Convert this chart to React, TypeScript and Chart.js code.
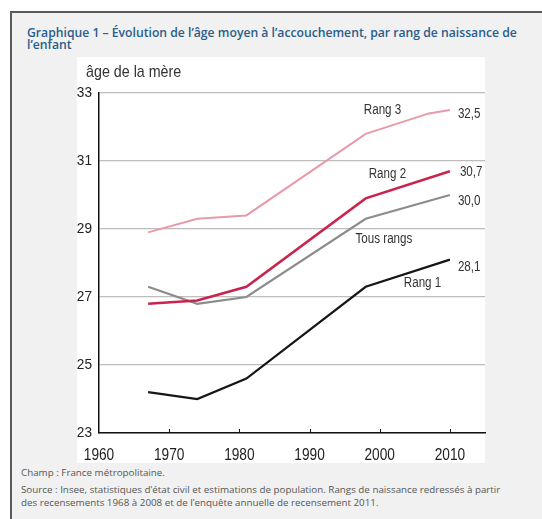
import React, { useEffect, useRef } from "react";
import { Chart, registerables } from "chart.js";

Chart.register(...registerables);

const yearsMain = [1967, 1974, 1981, 1998, 2010];
const yearsRang3 = [1967, 1974, 1981, 1998, 2007, 2010];
const rang3 = [28.9, 29.3, 29.4, 31.8, 32.4, 32.5];
const rang2 = [26.8, 26.9, 27.3, 29.9, 30.7];
const tousRangs = [27.3, 26.8, 27.0, 29.3, 30.0];
const rang1 = [24.2, 24.0, 24.6, 27.3, 28.1];
const endLabels = ["32,5", "30,7", "30,0", "28,1"];
const seriesNames = ["Rang 3", "Rang 2", "Tous rangs", "Rang 1"];
const xTicks = [1960, 1970, 1980, 1990, 2000, 2010];
const yTicks = [23, 25, 27, 29, 31, 33];

// annotation placement (data coordinates) for series names
const nameX = [2000.4, 2001.1, 2000.6, 2006.1];
const nameY = [32.5, 30.6, 28.7, 27.4];
// pixel offset of value label from last point
const endDx = [8, 10, 8, 8];
const endDy = [4, 1, 6, 8];

const COLORS = ["#e79aa9", "#c9244c", "#8c8c8c", "#161616"];
const SANS = "'Liberation Sans', Arial, sans-serif";

function toXY(xs: number[], ys: number[]) {
  return xs.map((x, i) => ({ x, y: ys[i] }));
}

function fillNarrow(
  ctx: CanvasRenderingContext2D,
  text: string,
  x: number,
  y: number,
  align: CanvasTextAlign,
  size: number,
  color: string,
  sx = 0.83
) {
  ctx.save();
  ctx.font = `${size}px ${SANS}`;
  ctx.fillStyle = color;
  ctx.translate(x, y);
  ctx.scale(sx, 1);
  ctx.textAlign = align;
  ctx.textBaseline = "middle";
  ctx.fillText(text, 0, 0);
  ctx.restore();
}

const labelsPlugin = {
  id: "labelsPlugin",
  afterDraw(chart: any) {
    const { ctx, scales } = chart;
    const xs = scales.x;
    const ys = scales.y;
    ctx.save();
    // inward ticks on x axis
    ctx.strokeStyle = "#111";
    ctx.lineWidth = 1;
    const axisY = ys.getPixelForValue(23);
    xTicks.forEach((t) => {
      if (t === 1960) return;
      const px = Math.round(xs.getPixelForValue(t)) + 0.5;
      ctx.beginPath();
      ctx.moveTo(px, axisY);
      ctx.lineTo(px, axisY - 4);
      ctx.stroke();
    });
    ctx.restore();
    // tick labels
    xTicks.forEach((t) => {
      fillNarrow(ctx, String(t), xs.getPixelForValue(t), axisY + 22, "center", 16.5, "#222");
    });
    yTicks.forEach((t) => {
      fillNarrow(ctx, String(t), xs.left - 7, ys.getPixelForValue(t), "right", 15.5, "#222", 0.88);
    });
    // axis title
    fillNarrow(ctx, "âge de la mère", 9, 15, "left", 17, "#333", 0.84);
    // series names & end values
    chart.data.datasets.forEach((ds: any, i: number) => {
      fillNarrow(ctx, seriesNames[i], xs.getPixelForValue(nameX[i]), ys.getPixelForValue(nameY[i]), "center", 14, "#333");
      const last = ds.data[ds.data.length - 1];
      fillNarrow(
        ctx,
        endLabels[i],
        xs.getPixelForValue(last.x) + endDx[i],
        ys.getPixelForValue(last.y) + endDy[i],
        "left",
        14,
        "#333"
      );
    });
  },
};

function ChartBox() {
  const ref = useRef<HTMLCanvasElement | null>(null);
  useEffect(() => {
    if (!ref.current) return;
    const chart = new Chart(ref.current, {
      type: "line",
      data: {
        datasets: [
          { label: seriesNames[0], data: toXY(yearsRang3, rang3), borderColor: COLORS[0], borderWidth: 2 },
          { label: seriesNames[1], data: toXY(yearsMain, rang2), borderColor: COLORS[1], borderWidth: 2.5 },
          { label: seriesNames[2], data: toXY(yearsMain, tousRangs), borderColor: COLORS[2], borderWidth: 2.2 },
          { label: seriesNames[3], data: toXY(yearsMain, rang1), borderColor: COLORS[3], borderWidth: 2.2 },
        ].map((d) => ({ ...d, pointRadius: 0, tension: 0, fill: false })),
      },
      options: {
        responsive: false,
        animation: false,
        layout: { padding: { top: 36, left: 0, right: 40, bottom: 0 } },
        plugins: { legend: { display: false }, tooltip: { enabled: false } },
        scales: {
          x: {
            type: "linear",
            min: 1960,
            max: 2015,
            afterFit: (s: any) => {
              s.height = 30;
            },
            afterBuildTicks: (s: any) => {
              s.ticks = xTicks.map((v) => ({ value: v }));
            },
            ticks: { display: false },
            grid: { display: false, drawTicks: false },
            border: { display: true, color: "#111", width: 1.5 },
          },
          y: {
            min: 23,
            max: 33,
            afterFit: (s: any) => {
              s.width = 22;
            },
            afterBuildTicks: (s: any) => {
              s.ticks = yTicks.map((v) => ({ value: v }));
            },
            ticks: { display: false },
            grid: { color: "#bdbdbd", lineWidth: 1.2, drawTicks: false },
            border: { display: true, color: "#111", width: 1.5 },
          },
        },
      },
      plugins: [labelsPlugin],
    } as any);
    return () => chart.destroy();
  }, []);
  return <canvas ref={ref} width={448} height={406} style={{ display: "block" }} />;
}

export default function App() {
  return (
    <div
      style={{
        position: "fixed",
        left: 0,
        top: 0,
        width: 542,
        height: 519,
        background: "#ffffff",
        overflow: "hidden",
      }}
    >
      <div
        style={{
          position: "absolute",
          left: 10,
          top: 11,
          width: 560,
          height: 540,
          background: "#f1f1f1",
          borderLeft: "2px solid #5a5a5a",
          borderTop: "2px solid #5a5a5a",
        }}
      />
      <div
        style={{
          position: "absolute",
          left: 27,
          top: 27,
          width: 515,
          fontFamily: "'Open Sans', sans-serif",
          fontWeight: 600,
          fontSize: 12.2,
          lineHeight: "12px",
          color: "#2a5d8c",
          whiteSpace: "nowrap",
        }}
      >
        Graphique 1 – Évolution de l’âge moyen à l’accouchement, par rang de naissance de
        <br />
        l’enfant
      </div>
      <div style={{ position: "absolute", left: 77, top: 57, width: 408, height: 406, background: "#fff" }} />
      <div style={{ position: "absolute", left: 77, top: 57 }}>
        <ChartBox />
      </div>
      <div
        style={{
          position: "absolute",
          left: 21,
          top: 466,
          width: 515,
          fontFamily: "'Open Sans', sans-serif",
          fontSize: 9.8,
          color: "#555",
          lineHeight: "13px",
        }}
      >
        <div style={{ marginBottom: 4 }}>Champ : France métropolitaine.</div>
        <div>
          Source : Insee, statistiques d’état civil et estimations de population. Rangs de naissance redressés à partir
          <br />
          des recensements 1968 à 2008 et de l’enquête annuelle de recensement 2011.
        </div>
      </div>
    </div>
  );
}
